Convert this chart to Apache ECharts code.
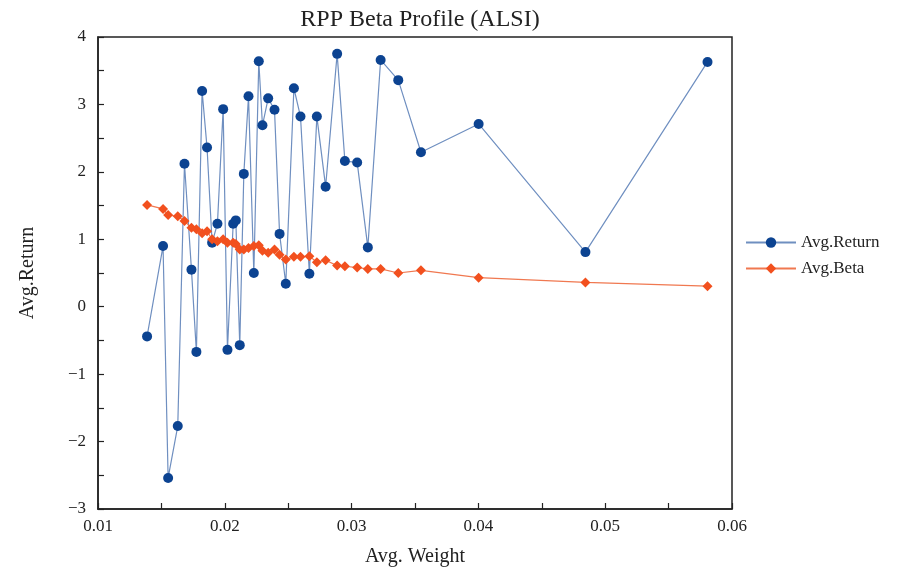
<!DOCTYPE html>
<html>
<head>
<meta charset="utf-8">
<script src="https://cdn.jsdelivr.net/npm/echarts@6/dist/echarts.min.js"></script>
<style>html,body{margin:0;padding:0;background:#fff;}#c{width:898px;height:572px;}</style>
</head>
<body>
<div id="c"></div>
<script>
const avgWeight = [0.01387,0.01513,0.01553,0.01629,0.01682,0.01737,0.01776,0.01821,0.0186,0.0190,
  0.01942,0.01987,0.02021,0.02066,0.02087,0.02118,0.0215,0.02187,0.02229,0.02268,
  0.02297,0.02342,0.02392,0.02432,0.02481,0.02545,0.02597,0.02667,0.02726,0.02795,
  0.02886,0.02947,0.03044,0.03128,0.03229,0.03368,0.03547,0.04002,0.04844,0.05807];
const avgReturn = [-0.44,0.90,-2.54,-1.77,2.12,0.55,-0.67,3.20,2.36,0.95,
  1.23,2.93,-0.64,1.23,1.28,-0.57,1.97,3.12,0.50,3.64,
  2.69,3.09,2.92,1.08,0.34,3.24,2.82,0.49,2.82,1.78,
  3.75,2.16,2.14,0.88,3.66,3.36,2.29,2.71,0.81,3.63];
const avgBeta = [1.51,1.45,1.36,1.34,1.27,1.17,1.15,1.09,1.12,1.00,
  0.97,1.00,0.95,0.95,0.93,0.85,0.85,0.87,0.90,0.91,
  0.83,0.80,0.85,0.77,0.70,0.74,0.74,0.75,0.66,0.69,
  0.61,0.60,0.58,0.56,0.56,0.50,0.54,0.43,0.36,0.305];

const font = 'Liberation Serif';
const chart = echarts.init(document.getElementById('c'));
const axisCommon = {
  axisLine: {show: true, onZero: false, lineStyle: {color: '#222', width: 1.5}},
  axisTick: {show: true, inside: true, length: 6, lineStyle: {color: '#222', width: 1.2}},
  minorTick: {show: true, splitNumber: 2, length: 6, lineStyle: {color: '#222', width: 1.2}},
  splitLine: {show: false},
  axisLabel: {color: '#222', fontFamily: font, fontSize: 17}
};
chart.setOption({
  animation: false,
  title: {text: 'RPP Beta Profile (ALSI)', left: 415, textAlign: 'center', top: 3,
    textStyle: {fontFamily: font, fontSize: 24, fontWeight: 'normal', color: '#222'}},
  grid: {left: 98, top: 37, width: 634, height: 473, show: true, borderColor: '#222', borderWidth: 1.5},
  legend: {
    orient: 'vertical', left: 740, top: 229, itemGap: 9, itemWidth: 50, itemHeight: 13,
    textStyle: {fontFamily: font, fontSize: 17, color: '#222'},
    data: ['Avg.Return', 'Avg.Beta']
  },
  xAxis: Object.assign({}, axisCommon, {
    type: 'value', min: 0.01, max: 0.06, interval: 0.01,
    name: 'Avg. Weight', nameLocation: 'middle', nameGap: 38,
    nameTextStyle: {fontFamily: font, fontSize: 20, color: '#222'},
    axisLabel: Object.assign({}, axisCommon.axisLabel, {margin: 9, formatter: v => v.toFixed(2)})
  }),
  yAxis: Object.assign({}, axisCommon, {
    type: 'value', min: -3, max: 4, interval: 1,
    name: 'Avg.Return', nameLocation: 'middle', nameGap: 60,
    nameTextStyle: {fontFamily: font, fontSize: 20, color: '#222'},
    axisLabel: Object.assign({}, axisCommon.axisLabel, {margin: 12, formatter: v => v < 0 ? '\u2212' + Math.abs(v) : String(v)})
  }),
  series: [
    {name: 'Avg.Return', type: 'line', symbol: 'circle', symbolSize: 10,
      data: avgWeight.map((w, i) => [w, avgReturn[i]]),
      lineStyle: {color: '#6f8fc0', width: 1.2},
      itemStyle: {color: '#0c4391'}, z: 2},
    {name: 'Avg.Beta', type: 'line', symbol: 'diamond', symbolSize: 10,
      data: avgWeight.map((w, i) => [w, avgBeta[i]]),
      lineStyle: {color: '#f07850', width: 1.2},
      itemStyle: {color: '#f2501e'}, z: 3}
  ]
});
</script>
</body>
</html>
